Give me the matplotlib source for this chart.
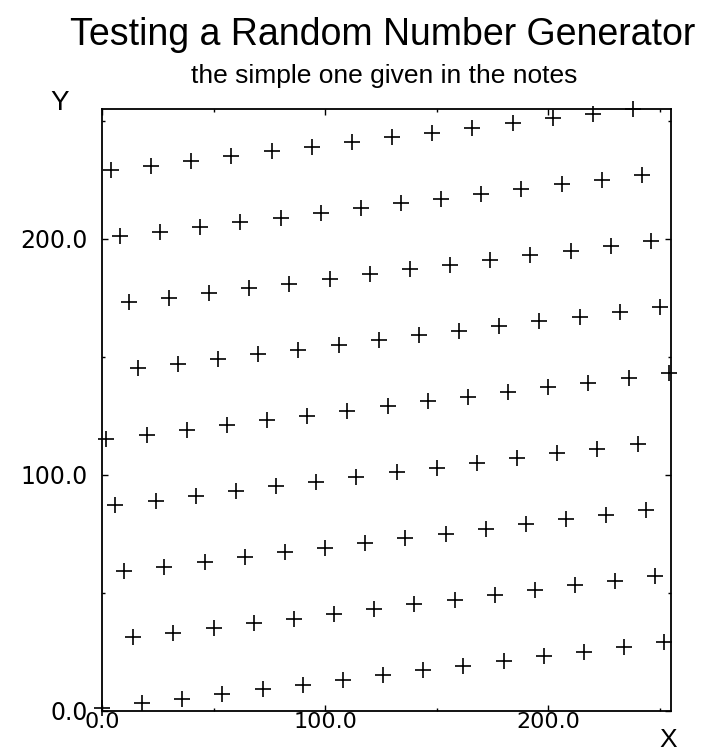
import matplotlib
matplotlib.use("Agg")
import matplotlib.pyplot as plt
from matplotlib.ticker import MultipleLocator, FormatStrFormatter

# Points (x_n, x_{n+1})
x_vals = [0, 2, 4, 6, 8, 10, 12, 14, 16, 18, 20, 22, 24, 26, 28, 30,
          32, 34, 36, 38, 40, 42, 44, 46, 48, 50, 52, 54, 56, 58, 60, 62,
          64, 66, 68, 70, 72, 74, 76, 78, 80, 82, 84, 86, 88, 90, 92, 94,
          96, 98, 100, 102, 104, 106, 108, 110, 112, 114, 116, 118, 120, 122, 124, 126,
          128, 130, 132, 134, 136, 138, 140, 142, 144, 146, 148, 150, 152, 154, 156, 158,
          160, 162, 164, 166, 168, 170, 172, 174, 176, 178, 180, 182, 184, 186, 188, 190,
          192, 194, 196, 198, 200, 202, 204, 206, 208, 210, 212, 214, 216, 218, 220, 222,
          224, 226, 228, 230, 232, 234, 236, 238, 240, 242, 244, 246, 248, 250, 252, 254]
y_vals = [1, 115, 229, 87, 201, 59, 173, 31, 145, 3, 117, 231, 89, 203, 61, 175,
          33, 147, 5, 119, 233, 91, 205, 63, 177, 35, 149, 7, 121, 235, 93, 207,
          65, 179, 37, 151, 9, 123, 237, 95, 209, 67, 181, 39, 153, 11, 125, 239,
          97, 211, 69, 183, 41, 155, 13, 127, 241, 99, 213, 71, 185, 43, 157, 15,
          129, 243, 101, 215, 73, 187, 45, 159, 17, 131, 245, 103, 217, 75, 189, 47,
          161, 19, 133, 247, 105, 219, 77, 191, 49, 163, 21, 135, 249, 107, 221, 79,
          193, 51, 165, 23, 137, 251, 109, 223, 81, 195, 53, 167, 25, 139, 253, 111,
          225, 83, 197, 55, 169, 27, 141, 255, 113, 227, 85, 199, 57, 171, 29, 143]

title = "Testing a Random Number Generator"
subtitle = "the simple one given in the notes"
x_label = "X"
y_label = "Y"

W, H = 705, 753
fig = plt.figure(figsize=(W / 100, H / 100), dpi=100)
ax = fig.add_axes([102 / W, 1 - 710.5 / H, (671 - 102) / W, (710.5 - 109) / H])

ax.plot(x_vals, y_vals, linestyle="none", marker="+", markersize=11,
        markeredgewidth=1.2, color="black", clip_on=False)

ax.set_xlim(0, 255)
ax.set_ylim(0, 255)
for s in ax.spines.values():
    s.set_linewidth(1.3)

ax.xaxis.set_major_locator(MultipleLocator(100))
ax.xaxis.set_minor_locator(MultipleLocator(50))
ax.yaxis.set_major_locator(MultipleLocator(100))
ax.yaxis.set_minor_locator(MultipleLocator(50))
ax.xaxis.set_major_formatter(FormatStrFormatter("%.1f"))
ax.yaxis.set_major_formatter(FormatStrFormatter("%.1f"))
ax.tick_params(which="both", direction="in", top=True, right=True, width=1.0)
ax.tick_params(which="major", length=4.5)
ax.tick_params(which="minor", length=2.5)
ax.tick_params(axis="x", which="major", pad=1, labelsize=16)
ax.tick_params(axis="y", which="major", pad=10, labelsize=17)
for lab in ax.get_xticklabels() + ax.get_yticklabels():
    lab.set_fontfamily("DejaVu Sans")

fig.text(383 / W, 1 - 45 / H, title, ha="center", va="baseline",
         fontsize=27, family="Liberation Sans")
fig.text(384 / W, 1 - 83 / H, subtitle, ha="center", va="baseline",
         fontsize=19, family="Liberation Sans")
fig.text(60 / W, 1 - 103 / H, y_label, ha="center", va="center",
         fontsize=20, family="Liberation Sans")
fig.text(668 / W, 1 - 740 / H, x_label, ha="center", va="center",
         fontsize=19, family="Liberation Sans")

fig.savefig("out.png", dpi=100)
